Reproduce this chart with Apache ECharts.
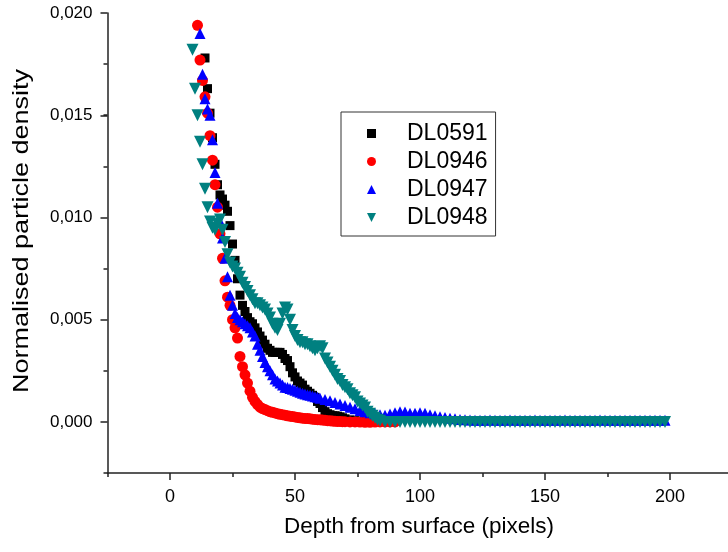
<!DOCTYPE html>
<html><head><meta charset="utf-8">
<script src="https://cdn.jsdelivr.net/npm/echarts@6/dist/echarts.min.js"></script>
<style>html,body{margin:0;padding:0;background:#fff}#c{width:728px;height:552px}</style>
</head><body><div id="c"></div>
<script>
// ---------- data ----------
const seriesNames = ['DL0591', 'DL0946', 'DL0947', 'DL0948'];
const xTickLabels = [0, 50, 100, 150, 200];
const yTickLabels = ['0,000', '0,005', '0,010', '0,015', '0,020'];

const x_DL0591 = [14,15,16,17,18,19,20,21,22,23,24,25,26,27,28,29,30,31,32,33,34,35,36,37,38,39,40,41,42,43,44,45,46,47,48,49,50,51,52,53,54,55,56,57,58,59,60,61,62,63,64,65,66,67,68,69,70,72,74,76,78,80];
const y_DL0591 = [0.0178,0.0163,0.0151,0.0139,0.0126,0.0116,0.0111,0.0109,0.0106,0.0103,0.0096,0.0087,0.0079,0.0070,0.0062,0.0057,0.0054,0.0051,0.0049,0.0048,0.0046,0.0044,0.0042,0.0040,0.0038,0.0036,0.0035,0.0034,0.0034,0.0034,0.0034,0.0033,0.0031,0.0030,0.0027,0.0024,0.0022,0.0020,0.0019,0.0018,0.0016,0.0015,0.0014,0.0013,0.0012,0.0010,0.0009,0.0007,0.0005,0.0004,0.00035,0.0003,0.0003,0.00028,0.00025,0.0002,0.00015,0.0001,0.00006,0.00003,0.00002,0.00001];

const x_DL0946 = [11,12,13,14,15,16,17,18,19,20,21,22,23,24,25,26,27,28,29,30,31,32,33,34,35,36,37,38,39,40,41,42,43,44,45,46,47,48,49,50,51,52,53,54,55,56,57,58,59,60,61,62,63,64,65,66,67,68,69,70,72,74,76,78,80,82,84,86,88,90];
const y_DL0946 = [0.0194,0.0177,0.0167,0.0159,0.0151,0.0140,0.0128,0.0116,0.0105,0.0092,0.0080,0.0069,0.0061,0.0057,0.0050,0.0046,0.0041,0.0032,0.0027,0.0023,0.0019,0.0015,0.0012,0.0010,0.00085,0.00072,0.00065,0.0006,0.00055,0.0005,0.00047,0.00044,0.0004,0.00037,0.00035,0.00033,0.0003,0.00028,0.00026,0.00024,0.00022,0.0002,0.00018,0.00017,0.00016,0.00015,0.00013,0.00012,0.00011,0.0001,0.00009,0.00008,0.00006,0.00005,0.00004,0.00003,0.00002,0.00002,0.00001,0.00001,0,0,-0.00001,-0.00002,-0.00002,-0.00001,0,0,0,0];

const x_DL0947 = [12,13,14,15,16,17,18,19,20,21,22,23,24,25,26,27,28,29,30,31,32,33,34,35,36,37,38,39,40,41,42,43,44,45,46,47,48,49,50,51,52,53,54,55,56,57,58,59,60,62,64,66,68,70,72,74,76,78,80,82,84,86,88,90,92,94,96,98,100,102,104,106,108,110,112,114,116,118,120,122,124,126,128,130,132,134,136,138,140,142,144,146,148,150,152,154,156,158,160,162,164,166,168,170,172,174,176,178,180,182,184,186,188,190,192,194,196,198];
const y_DL0947 = [0.0190,0.0170,0.0158,0.0153,0.0150,0.0138,0.0122,0.0107,0.0098,0.0090,0.0080,0.0071,0.0062,0.0057,0.0053,0.0051,0.0050,0.0049,0.0048,0.0047,0.0046,0.0044,0.0042,0.0038,0.0035,0.0032,0.0029,0.0027,0.0025,0.0023,0.0021,0.0020,0.0019,0.0018,0.0017,0.00168,0.00163,0.0016,0.00155,0.0015,0.00145,0.0014,0.00137,0.00133,0.0013,0.00127,0.00123,0.0012,0.00116,0.0011,0.00103,0.00095,0.00088,0.0008,0.00072,0.00064,0.00056,0.0005,0.00045,0.0004,0.00035,0.00033,0.00038,0.00045,0.0005,0.00048,0.00042,0.00042,0.00045,0.00042,0.00035,0.0003,0.00025,0.00022,0.00018,0.00015,0.00012,0.0001,0.00009,0.00008,0.00008,0.00008,0.00009,0.00008,0.00008,0.00008,0.00009,0.00008,0.00008,0.00008,0.00008,0.00009,0.00008,0.00008,0.00008,0.00008,0.00008,0.00009,0.00008,0.00008,0.00008,0.00008,0.00008,0.00008,0.00009,0.00008,0.00008,0.00008,0.00008,0.00008,0.00008,0.00008,0.00008,0.00008,0.00008,0.00008,0.00008,0.00008];

const x_DL0948 = [9,10,11,12,13,14,15,16,17,18,19,20,21,22,23,24,25,26,27,28,29,30,31,32,33,34,35,36,37,38,39,40,41,42,43,44,45,46,47,48,49,50,51,52,53,54,55,56,57,58,59,60,61,62,63,64,65,66,67,68,69,70,71,72,73,74,75,76,77,78,79,80,81,82,83,84,86,88,90,92,94,96,98,100,102,104,106,108,110,112,114,116,118,120,122,124,126,128,130,132,134,136,138,140,142,144,146,148,150,152,154,156,158,160,162,164,166,168,170,172,174,176,178,180,182,184,186,188,190,192,194,196,198];
const y_DL0948 = [0.0182,0.0163,0.0150,0.0137,0.0126,0.0114,0.0105,0.0098,0.0095,0.0094,0.0097,0.0099,0.0094,0.0088,0.0082,0.0078,0.0076,0.0075,0.0073,0.0071,0.0068,0.0066,0.0064,0.0062,0.0060,0.0058,0.0058,0.0057,0.0056,0.0055,0.0053,0.0051,0.0048,0.0046,0.0045,0.0048,0.0053,0.0056,0.0055,0.0050,0.0045,0.0042,0.0040,0.0039,0.0039,0.0038,0.0038,0.0037,0.0036,0.0035,0.0036,0.0037,0.0036,0.0031,0.0029,0.0027,0.0025,0.0023,0.0021,0.0020,0.0018,0.0017,0.0016,0.0014,0.0013,0.0012,0.0010,0.0009,0.0008,0.0007,0.0005,0.0004,0.0003,0.0002,0.0001,0.00005,0,0,0,0,0,0,0,0,0,0,0,0,0,0,0,0,0,0,0,0,0,0,0,0,0,0,0,0,0,0,0,0,0,0,0,0,0,0,0,0,0,0,0,0,0,0,0,0,0,0,0,0,0,0,0,0,0];

// ---------- chart ----------
const pairs = (xs, ys) => xs.map((x, i) => [x, ys[i]]);
const colors = ['#000000', '#ff0000', '#0000ff', '#008080'];
const symbols = ['rect', 'circle', 'triangle', 'path://M0,0L10,0L5,10Z'];
const sizes = [9, 11, 11, 12];
const datasets = [pairs(x_DL0591, y_DL0591), pairs(x_DL0946, y_DL0946), pairs(x_DL0947, y_DL0947), pairs(x_DL0948, y_DL0948)];

const FONT = 'Liberation Sans, Arial, sans-serif';
const axisColor = '#222';

const chart = echarts.init(document.getElementById('c'), null, {renderer: 'canvas'});
chart.setOption({
  animation: false,
  backgroundColor: '#fff',
  grid: [
    {left: 107.5, right: -4.5, top: 13, bottom: 79, outerBoundsMode: 'none'},
    {left: 170, right: 58, top: 13, bottom: 79, outerBoundsMode: 'none'},
    {left: 107.5, right: -4.5, top: 13, bottom: 130, outerBoundsMode: 'none'}
  ],
  xAxis: [
    {gridIndex: 0, type: 'value', min: -25, max: 225, interval: 25,
     axisLine: {show: true, onZero: false, lineStyle: {color: axisColor, width: 1.5}},
     axisTick: {show: true, length: 4, lineStyle: {color: axisColor, width: 1.5}},
     axisLabel: {show: false}, splitLine: {show: false}},
    {gridIndex: 1, type: 'value', min: 0, max: 200, interval: 50,
     axisLine: {show: false, onZero: false},
     axisTick: {show: true, length: 7, lineStyle: {color: axisColor, width: 1.5}},
     axisLabel: {show: true, margin: 15, color: '#000', fontSize: 18, fontFamily: FONT, showMinLabel: true, showMaxLabel: true,
       formatter: v => String(xTickLabels[xTickLabels.indexOf(v)])},
     splitLine: {show: false}},
    {gridIndex: 2, type: 'value', min: 0, max: 1, show: false}
  ],
  yAxis: [
    {gridIndex: 0, type: 'value', min: -0.0025, max: 0.020, interval: 0.0025,
     axisLine: {show: true, onZero: false, lineStyle: {color: axisColor, width: 1.5}},
     axisTick: {show: true, length: 4, lineStyle: {color: axisColor, width: 1.5}},
     axisLabel: {show: false}, splitLine: {show: false}},
    {gridIndex: 1, type: 'value', min: 0, max: 1, show: false},
    {gridIndex: 2, type: 'value', min: 0, max: 0.020, interval: 0.005,
     axisLine: {show: false, onZero: false},
     axisTick: {show: true, length: 7, lineStyle: {color: axisColor, width: 1.5}},
     axisLabel: {show: true, margin: 15, color: '#000', fontSize: 17, fontFamily: FONT, showMinLabel: true, showMaxLabel: true,
       formatter: v => yTickLabels[Math.round(v / 0.005)]},
     splitLine: {show: false}}
  ],
  legend: {
    show: true, orient: 'vertical', left: 341, top: 112,
    padding: [10, 8, 7, 26], itemGap: 5, itemWidth: 9, itemHeight: 9,
    borderColor: '#333', borderWidth: 1, backgroundColor: '#fff',
    textStyle: {fontSize: 23, fontFamily: FONT, color: '#000', lineHeight: 20, padding: [0, 0, 0, 26]},
    selectedMode: false,
    data: seriesNames.map((n, i) => ({name: n, icon: symbols[i], itemStyle: {color: colors[i]}}))
  },
  graphic: [
    {type: 'text', x: 419, y: 527, style: {text: 'Depth from surface (pixels)', fill: '#000', font: '22.5px ' + FONT, align: 'center', verticalAlign: 'middle'}},
    {type: 'text', x: 22, y: 231, rotation: Math.PI / 2, scaleX: 1.2, style: {text: 'Normalised particle density', fill: '#000', font: '22.5px ' + FONT, align: 'center', verticalAlign: 'middle'}}
  ],
  series: seriesNames.map((n, i) => ({
    type: 'scatter', name: n, xAxisIndex: 0, yAxisIndex: 0,
    data: datasets[i], symbol: symbols[i], symbolSize: sizes[i],
    itemStyle: {color: colors[i], opacity: 1}, emphasis: {disabled: true},
    clip: false, large: false
  }))
});
</script></body></html>
